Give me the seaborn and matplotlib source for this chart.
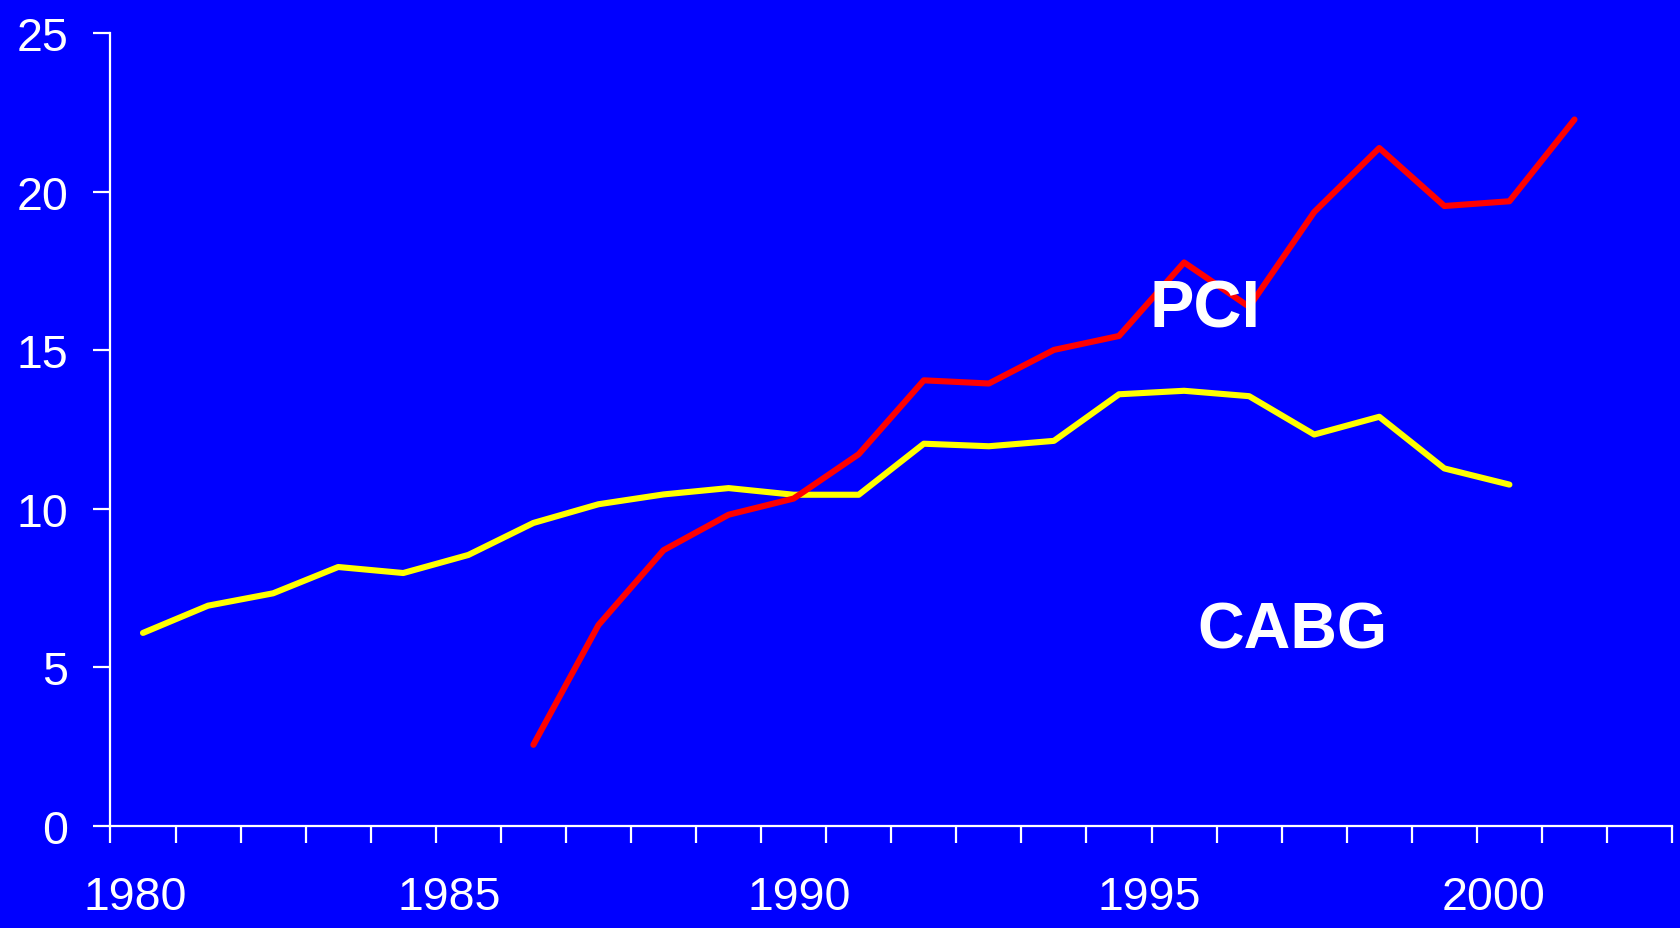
import numpy as np
import pandas as pd
import matplotlib
matplotlib.use("Agg")
import matplotlib.pyplot as plt
import seaborn as sns
from matplotlib.ticker import FixedLocator

# ── data ──────────────────────────────────────────────────────
cabg_years = list(range(1980, 2002))
cabg_vals = [6.08, 6.94, 7.33, 8.16, 7.97, 8.54, 9.55, 10.14, 10.45, 10.65, 10.44,
             10.44, 12.05, 11.97, 12.14, 13.61, 13.72, 13.55, 12.34, 12.90, 11.27, 10.76]

pci_years = list(range(1986, 2003))
pci_vals = [2.55, 6.33, 8.69, 9.81, 10.32, 11.72, 14.05, 13.95, 15.01, 15.45,
            17.77, 16.37, 19.36, 21.38, 19.55, 19.70, 22.28]

year_labels = ["1980", "1985", "1990", "1995", "2000"]
label_pos = [1979.88, 1984.71, 1990.08, 1995.46, 2000.75]
y_ticks = [0, 5, 10, 15, 20, 25]

BG = "#0000FF"
sns.set_style("white")
plt.rcParams['font.family'] = ['Liberation Sans', 'DejaVu Sans']

df = pd.concat([
    pd.DataFrame({"year": cabg_years, "value": cabg_vals, "series": "CABG"}),
    pd.DataFrame({"year": pci_years, "value": pci_vals, "series": "PCI"}),
])

fig = plt.figure(figsize=(16.81, 9.29), dpi=100, facecolor=BG)
ax = fig.add_axes([0.0657, 0.1102, 0.9290, 0.8529])
ax.set_facecolor(BG)

sns.lineplot(data=df, x="year", y="value", hue="series",
             palette={"CABG": "#FFFF00", "PCI": "#FF0000"},
             linewidth=4.4, legend=False, ax=ax)

ax.set_xlim(1979.5, 2003.5)
ax.set_ylim(0, 25)
ax.set_xlabel(""); ax.set_ylabel("")

# spines
for s in ["top", "right"]:
    ax.spines[s].set_visible(False)
for s in ["left", "bottom"]:
    ax.spines[s].set_color("white")
    ax.spines[s].set_linewidth(1.6)

# ticks: minor ticks mark every year, labels sit on invisible major ticks
ax.xaxis.set_major_locator(FixedLocator(label_pos))
ax.set_xticklabels(year_labels)
ax.xaxis.set_minor_locator(FixedLocator(np.arange(1979.5, 2004, 1.0)))
ax.tick_params(axis="x", which="major", bottom=True, length=0, pad=35.5,
               labelsize=33.5, labelcolor="white")
ax.tick_params(axis="x", which="minor", bottom=True, direction="out", length=12,
               width=1.6, color="white")
ax.set_yticks(y_ticks)
ax.tick_params(axis="y", left=True, direction="out", length=12, width=1.6,
               color="white", labelsize=33.5, labelcolor="white", pad=18.5)
ax.grid(False)

# series labels
ax.text(1996.32, 16.29, "PCI", color="white", fontsize=48, fontweight="bold",
        ha="center", va="center")
ax.text(1997.67, 6.15, "CABG", color="white", fontsize=46.5, fontweight="bold",
        ha="center", va="center")

fig.savefig("out.png", dpi=100, facecolor=BG)
